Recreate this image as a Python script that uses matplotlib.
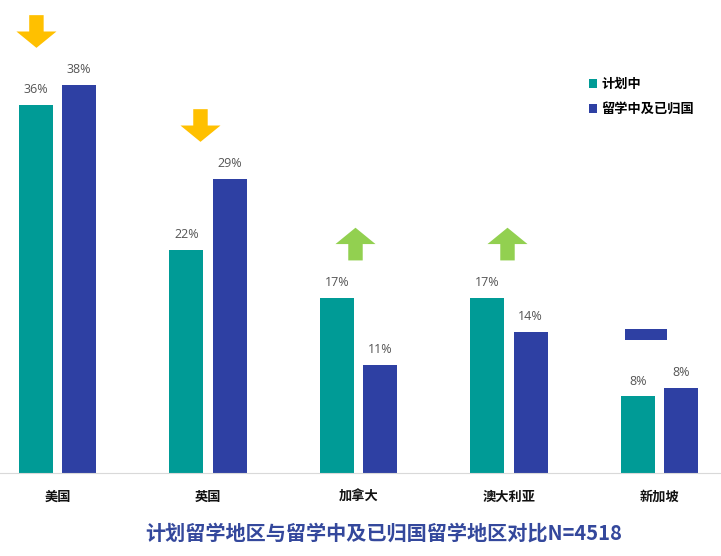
import matplotlib
matplotlib.use('Agg')
import matplotlib.pyplot as plt
from matplotlib.patches import Polygon
import numpy as np

plt.rcParams['font.family'] = ['Noto Sans CJK SC', 'DejaVu Sans']

countries = ['美国', '英国', '加拿大', '澳大利亚', '新加坡']
planning = [36, 21.8, 17.1, 17.1, 7.5]
studying_returned = [38, 28.8, 10.6, 13.8, 8.3]
trend = ['down', 'down', 'up', 'up', 'flat']
series_names = ['计划中', '留学中及已归国']
title = '计划留学地区与留学中及已归国留学地区对比N=4518'

TEAL = '#009B96'
BLUE = '#2E40A3'
YELLOW = '#FFC000'
GREEN = '#92D050'

fig = plt.figure(figsize=(7.21, 5.56), dpi=100)
ax = fig.add_axes([0, 83 / 556, 1, 473 / 556])

x = np.arange(len(countries))
w = 0.226
off = 0.143
b1 = ax.bar(x - off, planning, w, color=TEAL, label=series_names[0])
b2 = ax.bar(x + off, studying_returned, w, color=BLUE, label=series_names[1])

for bars in (b1, b2):
    for rect in bars:
        h = rect.get_height()
        ax.annotate(f'{round(h)}%', (rect.get_x() + rect.get_width() / 2, h),
                    xytext=(0, 11), textcoords='offset points',
                    ha='center', va='center', fontsize=9, color='#555555',
                    family=['Open Sans', 'DejaVu Sans'])

# trend markers above each group
marker_dx = [-0.14, -0.05, -0.02, -0.01, -0.09]
hw = 0.133   # half head width
sw = 0.048   # half shaft width
ah = 3.2     # arrow height
for i, t in enumerate(trend):
    cx = x[i] + marker_dx[i]
    top = max(planning[i], studying_returned[i])
    if t == 'down':
        y0 = top + 3.6
        y1 = y0 + ah
        ym = y0 + ah / 2
        pts = [(cx - sw, y1), (cx + sw, y1), (cx + sw, ym), (cx + hw, ym),
               (cx, y0), (cx - hw, ym), (cx - sw, ym)]
        ax.add_patch(Polygon(pts, closed=True, color=YELLOW, lw=0))
    elif t == 'up':
        y0 = top + 3.7
        y1 = y0 + ah
        ym = y0 + ah / 2
        pts = [(cx - sw, y0), (cx + sw, y0), (cx + sw, ym), (cx + hw, ym),
               (cx, y1), (cx - hw, ym), (cx - sw, ym)]
        ax.add_patch(Polygon(pts, closed=True, color=GREEN, lw=0))
    else:
        y0 = top + 4.7
        ax.add_patch(Polygon([(cx - 0.14, y0), (cx + 0.14, y0),
                              (cx + 0.14, y0 + 1.1), (cx - 0.14, y0 + 1.1)],
                             closed=True, color=BLUE, lw=0))

ax.set_xlim(-57.5 / 150.5, (721 - 57.5) / 150.5)
ax.set_ylim(0, 473 / 10.22)
ax.set_yticks([])
ax.set_xticks(x)
ax.set_xticklabels(countries, fontsize=9.5, fontweight='bold', color='#111111')
ax.tick_params(axis='x', length=0, pad=12)
for s in ('left', 'right', 'top'):
    ax.spines[s].set_visible(False)
ax.spines['bottom'].set_color('#D9D9D9')
ax.patch.set_alpha(0)

leg = ax.legend(loc='upper left', bbox_to_anchor=(589 / 721, 1 - 77 / 556),
                bbox_transform=fig.transFigure, frameon=False,
                prop={'weight': 'bold', 'size': 9.5},
                handlelength=0.6, handleheight=0.6, handletextpad=0.35,
                labelspacing=0.85, borderpad=0, borderaxespad=0)

fig.text(384 / 721, 1 - 533 / 556, title, ha='center', va='center',
         fontsize=14.5, fontweight='bold', color='#34489C')

fig.savefig('out.png', dpi=100)
